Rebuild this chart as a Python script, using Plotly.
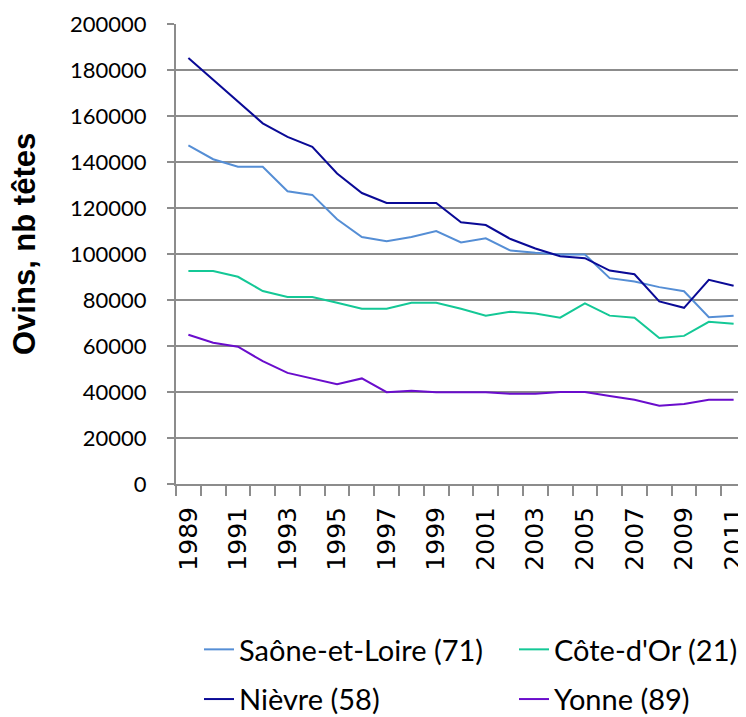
import plotly.graph_objects as go

years = list(range(1989, 2012))
saone_et_loire = [147200, 141200, 137900, 137900, 127300, 125700, 115100, 107400, 105600, 107400,
                  110000, 105000, 106800, 101500, 100500, 99800, 99800, 89500, 88000, 85600,
                  83800, 72500, 73200]
cote_dor = [92600, 92600, 90100, 83900, 81300, 81300, 78800, 76200, 76200, 78800,
            78800, 76200, 73200, 74900, 74100, 72300, 78500, 73200, 72300, 63500,
            64400, 70500, 69700]
nievre = [185200, 175700, 166000, 156800, 150900, 146600, 135000, 126500, 122200, 122200,
          122200, 113800, 112600, 106500, 102400, 99000, 98200, 92800, 91200, 79400,
          76600, 88800, 86200]
yonne = [64900, 61400, 59700, 53400, 48300, 46000, 43400, 45900, 39900, 40500,
         39900, 39900, 39900, 39200, 39200, 40000, 40000, 38300, 36600, 34000,
         34800, 36600, 36600]

series_names = ["Saône-et-Loire (71)", "Côte-d'Or (21)", "Nièvre (58)", "Yonne (89)"]
series_values = [saone_et_loire, cote_dor, nievre, yonne]
series_colors = ["#558ED5", "#14C896", "#0A0A96", "#6A0DCC"]
series_legend = ["legend", "legend2", "legend", "legend2"]

y_title = "Ovins, nb têtes"
label_years = years[::2]

fig = go.Figure()
for name, vals, col, lg in zip(series_names, series_values, series_colors, series_legend):
    fig.add_trace(go.Scatter(x=years, y=vals, mode="lines", name=name,
                             legend=lg, legendgroup=name,
                             line=dict(color=col, width=2)))

grid = "#8C8C8C"
boundaries = [y - 0.5 for y in years] + [years[-1] + 0.5]

legend_common = dict(orientation="v", xref="paper", yref="paper",
                     xanchor="left", yanchor="top",
                     font=dict(family="Lato", size=29, color="#000000"),
                     itemwidth=30, tracegroupgap=9, traceorder="grouped",
                     bgcolor="rgba(0,0,0,0)")

# the page body adds an 8px offset; margins compensate so the plot sits at 176..746 x 24..484
fig.update_layout(
    width=746, height=717,
    margin=dict(l=168, r=8, t=16, b=241, autoexpand=False),
    paper_bgcolor="white", plot_bgcolor="white",
    showlegend=True,
    legend=dict(x=23 / 570, y=-140 / 460, **legend_common),
    legend2=dict(x=338 / 570, y=-140 / 460, **legend_common),
    xaxis=dict(range=[years[0] - 0.5, years[-1] + 0.5],
               tickmode="array", tickvals=label_years,
               ticktext=[str(y) for y in label_years],
               tickangle=-90, ticks="", showgrid=False,
               showline=True, linecolor=grid, linewidth=2,
               tickfont=dict(family="DejaVu Sans", size=25, color="#000000"),
               ticklabelstandoff=11, ticklabeloverflow="allow",
               minor=dict(tickvals=boundaries, ticks="outside", ticklen=10,
                          tickcolor=grid, tickwidth=2, showgrid=False),
               zeroline=False),
    yaxis=dict(range=[0, 200000], tickmode="linear", tick0=0, dtick=20000,
               tickformat="d",
               ticks="outside", ticklen=7, tickcolor=grid, tickwidth=2,
               showgrid=True, gridcolor=grid, gridwidth=2,
               showline=True, linecolor=grid, linewidth=2,
               zeroline=False,
               tickfont=dict(family="Lato", size=22, color="#000000"),
               ticklabelstandoff=16),
    annotations=[dict(text=y_title, xref="paper", yref="paper",
                      x=-152 / 570, y=240 / 460, xanchor="center", yanchor="middle",
                      textangle=-90, showarrow=False,
                      font=dict(family="Liberation Sans", size=31,
                                color="#000000", weight="bold"))],
)

fig.write_html("out.html")
